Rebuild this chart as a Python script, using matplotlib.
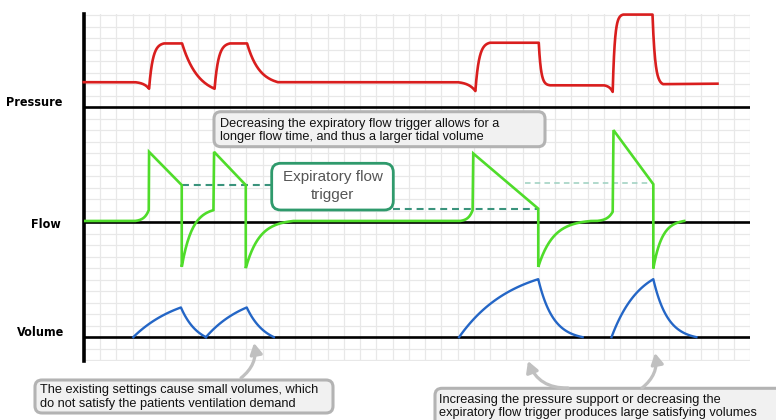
import numpy as np
import matplotlib
matplotlib.use("Agg")
import matplotlib.pyplot as plt
from matplotlib import font_manager
from matplotlib.font_manager import FontProperties
from matplotlib.patches import FancyBboxPatch, FancyArrowPatch

plt.rcParams['lines.scale_dashes'] = False

# ---------------- waveform data ----------------
# time in grid columns, level in grid rows.
# bend per segment: 0 straight, >0 fast-then-slow, <0 slow-then-fast
pressure_t = [-1.0, 2.15, 3.02, 3.94, 5.05, 7.05, 8.00, 9.05, 10.95, 22.0,
              23.1, 24.0, 27.0, 27.7, 31.0, 31.55, 32.2, 34.0, 34.65, 38.0]
pressure_v = [22.17, 22.17, 21.6, 25.54, 25.54, 21.6, 25.54, 25.54, 22.17, 22.17,
              21.4, 25.6, 25.6, 21.9, 21.9, 21.33, 28.05, 28.05, 22.0, 22.04]
pressure_bend = [0, -2.5, 4, 0, 2, 4, 0, 2.5, 0, -2.5, 4, 0, 5, 0, -2.5, 5, 0, 4, 0]

flow_t = [-1.0, 2.15, 3.0, 3.02, 5.03, 5.03, 6.98, 7.02, 8.97, 8.97, 11.9,
          22.15, 22.93, 22.97, 26.97, 26.97, 30.2, 30.56, 31.55, 31.6, 34.05, 34.05, 35.95]
flow_v = [10.1, 10.1, 11.04, 16.11, 13.22, 6.11, 11.04, 16.11, 13.22, 6.0, 10.1,
          10.1, 11.04, 15.97, 11.17, 6.11, 10.1, 10.1, 10.9, 18.0, 13.3, 5.97, 10.1]
flow_bend = [0, -3, 0, 0, 0, 3, 0, 0, 0, 3.5, 0, -3, 0, 0, 0, 3.5, 0, -3, 0, 0, 0, 3.5]

# volume: one rise/fall per breath
vol_start = [2.05, 6.52, 22.1, 31.48]
vol_peak_t = [4.98, 9.03, 26.97, 34.05]
vol_end = [6.52, 10.7, 29.7, 36.7]
vol_peak = [2.58, 2.58, 5.04, 5.04]
vol_rise_bend = [1.0, 1.0, 1.5, 1.5]
vol_fall_bend = [1.5, 1.5, 3.0, 3.0]

# expiratory trigger levels (flow) with their guide extents
trig_level = [13.22, 11.17, 13.36]
trig_x0 = [5.03, 18.05, 26.15]
trig_x1 = [10.57, 26.97, 34.05]

baselines = [0, 10, 20]
panel_names = ["Volume", "Flow", "Pressure"]

RED = "#d91e1e"
GREEN = "#4fdc2a"
BLUE = "#2466c6"
TEAL = "#3a937c"


def trace(t, v, bend, n=50):
    xs, ys = [t[0]], [v[0]]
    for i in range(len(t) - 1):
        s = np.linspace(0, 1, n)[1:]
        k = bend[i]
        if k == 0:
            f = s
        elif k > 0:
            f = (1 - np.exp(-k * s)) / (1 - np.exp(-k))
        else:
            f = (np.exp(-k * s) - 1) / (np.exp(-k) - 1)
        xs.extend(t[i] + (t[i + 1] - t[i]) * s)
        ys.extend(v[i] + (v[i + 1] - v[i]) * f)
    return np.array(xs), np.array(ys)


fig = plt.figure(figsize=(7.76, 4.2), dpi=100)
W, H = 776, 420

# plotting area in pixels
left, right, top, bottom = 84, 750, 14, 360.7
ax = fig.add_axes([left / W, (H - bottom) / H, (right - left) / W, (bottom - top) / H])
ax.set_xlim(-0.985, 40)
ax.set_ylim(-2.05, 28.1)
for sp in ("top", "right", "bottom"):
    ax.spines[sp].set_visible(False)
ax.spines["left"].set_linewidth(2.6)
ax.set_xticks([])
ax.set_yticks([])

# background grid
for gx in range(0, 41):
    ax.plot([gx, gx], [-2.05, 28.1], color="#e8e8e8", lw=0.9, zorder=0)
for gy in range(-2, 29):
    ax.plot([-0.985, 40], [gy, gy], color="#e8e8e8", lw=0.9, zorder=0)

# panel baselines
for b in baselines:
    ax.plot([-0.985, 40], [b, b], color="black", lw=1.9, zorder=2)

# trigger guides
ax.plot([trig_x0[0], trig_x1[0]], [trig_level[0]] * 2, color=TEAL, lw=1.5,
        dashes=[5, 3.5], zorder=3)
ax.plot([trig_x0[1], trig_x1[1]], [trig_level[1]] * 2, color=TEAL, lw=1.5,
        dashes=[5, 3.5], zorder=3)
ax.plot([trig_x0[2], trig_x1[2]], [trig_level[2]] * 2, color="#a3d3c4", lw=1.2,
        dashes=[4, 3], zorder=3)

# waveforms
px, py = trace(pressure_t, pressure_v, pressure_bend)
ax.plot(px, py, color=RED, lw=1.9, zorder=4, clip_on=False, solid_joinstyle="round")
fx, fy = trace(flow_t, flow_v, flow_bend)
ax.plot(fx, fy, color=GREEN, lw=1.9, zorder=4, solid_joinstyle="miter")
for i in range(len(vol_start)):
    vx, vy = trace([vol_start[i], vol_peak_t[i], vol_end[i]], [0, vol_peak[i], 0],
                   [vol_rise_bend[i], vol_fall_bend[i]])
    ax.plot(vx, vy, color=BLUE, lw=1.7, zorder=4)

# ---------------- annotations (pixel space) ----------------
ov = fig.add_axes([0, 0, 1, 1], zorder=5)
ov.set_xlim(0, W)
ov.set_ylim(H, 0)
ov.axis("off")

# narrow bold face for the trace names, if one is installed
lab_prop = None
for f in font_manager.fontManager.ttflist:
    narrow = ("Narrow" in f.name or "Condensed" in f.name
              or f.stretch in ("condensed", "semi-condensed", 600, 700)
              or "Condensed" in f.fname or "Narrow" in f.fname)
    bold = (f.weight in ("bold", 700) or "Bold" in f.fname) and "Italic" not in f.fname \
        and "Oblique" not in f.fname
    if narrow and bold and ("Sans" in f.name or "Roboto" in f.name):
        lab_prop = FontProperties(fname=f.fname, size=10)
        break
if lab_prop is None:
    lab_prop = FontProperties(family="DejaVu Sans", weight="bold", size=8.2)

body_font = ["Liberation Sans", "DejaVu Sans"]

renderer = fig.canvas.get_renderer()
labels = []
for name, xr, yc in [("Pressure", 62, 102), ("Flow", 61, 224), ("Volume", 64, 333)]:
    labels.append(ov.text(xr, yc, name, ha="right", va="center",
                          fontproperties=lab_prop, color="black"))
# size the trace names so "Pressure" spans about 56 px
w_press = labels[0].get_window_extent(renderer=renderer).width
scale = min(1.0, 56.0 / w_press)
for t in labels:
    t.set_fontsize(lab_prop.get_size() * scale)


def callout(x0, y0, x1, y1, lines, tx, ty, size=9.2, dy=13.2):
    box = FancyBboxPatch((x0, y0), x1 - x0, y1 - y0,
                         boxstyle="round,pad=0,rounding_size=7",
                         facecolor="#f1f1f1", edgecolor="#b3b3b3", lw=2.2,
                         clip_on=False)
    ov.add_patch(box)
    for j, ln in enumerate(lines):
        ov.text(tx, ty + j * dy, ln, ha="left", va="center", family=body_font,
                fontsize=size, color="#111111")


callout(214, 111.7, 545, 146.7,
        ["Decreasing the expiratory flow trigger allows for a",
         "longer flow time, and thus a larger tidal volume"], 220, 123.5)
callout(35, 380, 333, 413,
        ["The existing settings cause small volumes, which",
         "do not satisfy the patients ventilation demand"], 40, 390.5)
callout(435, 388.3, 800, 440,
        ["Increasing the pressure support or decreasing the",
         "expiratory flow trigger produces large satisfying volumes"], 439, 399.5)

# expiratory flow trigger label
trig_box = FancyBboxPatch((271.7, 163.3), 121.6, 46.7,
                          boxstyle="round,pad=0,rounding_size=9",
                          facecolor="white", edgecolor="#2f9a6c", lw=2.0)
ov.add_patch(trig_box)
ov.text(332.5, 177, "Expiratory flow", ha="center", va="center", family=body_font,
        fontsize=11, color="#555555")
ov.text(332.5, 195.5, "trigger", ha="center", va="center", family=body_font,
        fontsize=11, color="#555555")

# gray arrows
arrow_kw = dict(arrowstyle="-|>,head_length=0.5,head_width=0.28", mutation_scale=13,
                color="#c0c0c0", lw=2.3, shrinkA=0, shrinkB=0)
ov.add_patch(FancyArrowPatch((241, 378), (254, 343),
                             connectionstyle="arc3,rad=0.3", **arrow_kw))
ov.add_patch(FancyArrowPatch((568, 388), (528, 361),
                             connectionstyle="arc3,rad=-0.35", **arrow_kw))
ov.add_patch(FancyArrowPatch((642, 388), (655, 353),
                             connectionstyle="arc3,rad=0.3", **arrow_kw))

fig.savefig("out.png", dpi=100)
